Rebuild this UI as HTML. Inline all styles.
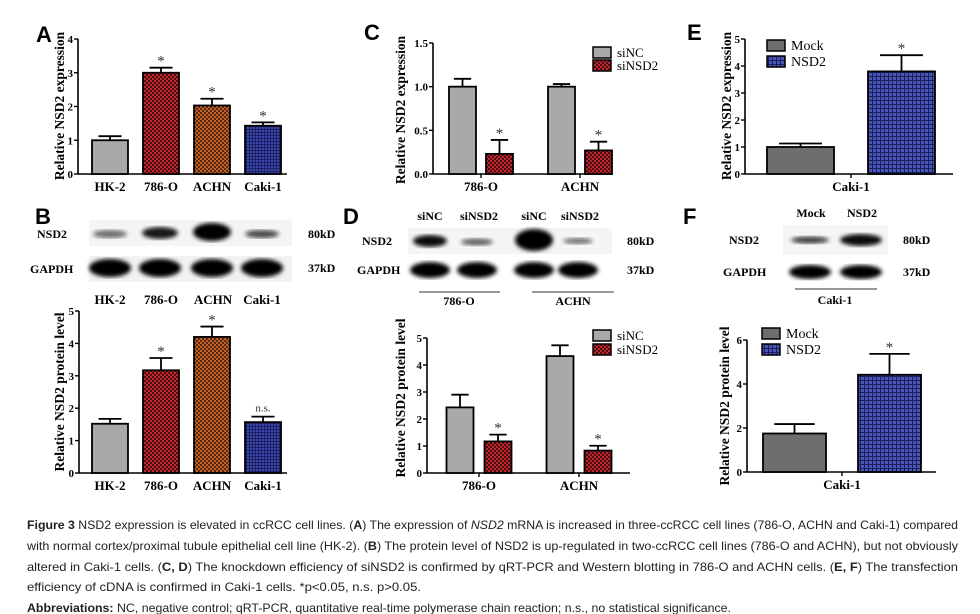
<!DOCTYPE html>
<html><head><meta charset="utf-8">
<style>
html,body{margin:0;padding:0;background:#fff;}
svg{display:block;}
.lt{font-family:"Liberation Sans",sans-serif;font-weight:bold;font-size:22px;}
.ser{font-family:"Liberation Serif",serif;font-weight:bold;}
.cap{font-family:"Liberation Sans",sans-serif;font-size:12px;fill:#222;}
.b{font-weight:bold;}
.i{font-style:italic;}
</style></head>
<body>
<svg id="fig" width="980" height="614" viewBox="0 0 980 614" xmlns="http://www.w3.org/2000/svg">
<defs>
<pattern id="pRed" width="4" height="4" patternUnits="userSpaceOnUse"><rect width="4" height="4" fill="#c0262e"/><rect width="2" height="2" fill="#4a0d10"/><rect x="2" y="2" width="2" height="2" fill="#4a0d10"/></pattern>
<pattern id="pOr" width="4" height="4" patternUnits="userSpaceOnUse"><rect width="4" height="4" fill="#c0622a"/><rect width="2" height="2" fill="#5a2a10"/><rect x="2" y="2" width="2" height="2" fill="#5a2a10"/></pattern>
<pattern id="pBlue" width="3" height="3" patternUnits="userSpaceOnUse"><rect width="3" height="3" fill="#3d47b0"/><rect width="3" height="1" fill="#1c2060"/><rect width="1" height="3" fill="#1c2060"/></pattern>
<pattern id="pBlue2" width="4" height="4" patternUnits="userSpaceOnUse"><rect width="4" height="4" fill="#4a55b8"/><rect width="4" height="1" fill="#1a1f5c"/><rect width="1" height="4" fill="#1a1f5c"/></pattern>
<filter id="blur"><feGaussianBlur stdDeviation="2.2"/></filter>
</defs>
<g id="charts"></g>
<g id="blots"></g>
<g id="caption"></g>
</svg>
<script>
// ---------- DATA ----------
const catsA = ["HK-2","786-O","ACHN","Caki-1"];
const valsA = [1.0, 3.0, 2.03, 1.43];
const errsA = [0.12, 0.15, 0.2, 0.1];
const sigA = ["", "*", "*", "*"];
const ticksA = [0,1,2,3,4];

const catsB = ["HK-2","786-O","ACHN","Caki-1"];
const valsB = [1.52, 3.17, 4.2, 1.57];
const errsB = [0.15, 0.38, 0.32, 0.17];
const sigB = ["", "*", "*", "n.s."];
const ticksB = [0,1,2,3,4,5];

const groupsC = ["786-O","ACHN"];
const seriesC = ["siNC","siNSD2"];
const valsC_siNC = [1.0, 1.0];
const errsC_siNC = [0.09, 0.03];
const valsC_siNSD2 = [0.23, 0.27];
const errsC_siNSD2 = [0.16, 0.1];
const ticksC = [0.0,0.5,1.0,1.5];
const tickLabelsC = ["0.0","0.5","1.0","1.5"];

const groupsD = ["786-O","ACHN"];
const seriesD = ["siNC","siNSD2"];
const valsD_siNC = [2.43, 4.33];
const errsD_siNC = [0.47, 0.4];
const valsD_siNSD2 = [1.17, 0.83];
const errsD_siNSD2 = [0.25, 0.18];
const ticksD = [0,1,2,3,4,5];

const groupsE = ["Caki-1"];
const seriesE = ["Mock","NSD2"];
const valsE_Mock = [1.0];
const errsE_Mock = [0.13];
const valsE_NSD2 = [3.8];
const errsE_NSD2 = [0.6];
const ticksE = [0,1,2,3,4,5];

const groupsF = ["Caki-1"];
const seriesF = ["Mock","NSD2"];
const valsF_Mock = [1.75];
const errsF_Mock = [0.43];
const valsF_NSD2 = [4.42];
const errsF_NSD2 = [0.95];
const ticksF = [0,2,4,6];

const NS = "http://www.w3.org/2000/svg";
function mk(tag, attrs, parent, text){
  const e = document.createElementNS(NS, tag);
  for (const k in attrs) e.setAttribute(k, attrs[k]);
  if (text !== undefined) e.textContent = text;
  if (parent) parent.appendChild(e);
  return e;
}
const charts = document.getElementById("charts");

function axes(g, c){
  const y = v => c.y0 - (v - 0) * (c.y0 - c.yTop) / c.yMax;
  const yax = mk("line",{x1:c.ax,y1:c.yTop,x2:c.ax,y2:c.y0,stroke:"#000","stroke-width":1.6},g);
  
  
  const xax = mk("line",{x1:c.ax,y1:c.y0,x2:c.axEnd,y2:c.y0,stroke:"#000","stroke-width":1.6},g);
  
  
  c.ticks.forEach((t,i)=>{
    mk("line",{x1:c.ax-4,y1:y(t),x2:c.ax,y2:y(t),stroke:"#000","stroke-width":1.4},g);
    const tl = mk("text",{x:c.ax-5,y:y(t)+4,"text-anchor":"end","font-size":11,class:"ser"},g,c.tickLabels?c.tickLabels[i]:String(t));
    
    
  });
  const tt = mk("text",{x:0,y:0,"text-anchor":"middle","font-size":c.titleSize||13.5,class:"ser",transform:`translate(${c.titleX},${c.titleY}) rotate(-90)`},g,c.title);
  
  
  return y;
}
function bar(g, x, w, v, e, fill, y, c, sig, name){
  const top = y(v);
  const r = mk("rect",{x:x,y:top,width:w,height:c.y0-top,fill:fill,stroke:"#000","stroke-width":1.8},g);
  
  
  const cx = x + w/2, et = y(v+e), cw = w*0.32;
  mk("line",{x1:cx,y1:top,x2:cx,y2:et,stroke:"#000","stroke-width":1.8},g);
  mk("line",{x1:cx-cw,y1:et,x2:cx+cw,y2:et,stroke:"#000","stroke-width":1.8},g);
  if (sig){
    const s = mk("text",{x:cx,y:sig==="*"?et-2:et-5,"text-anchor":"middle","font-size":sig==="*"?15:11,"font-family":"Liberation Serif, serif",fill:"#333"},g, sig);
    
    
  }
}
function simpleChart(c, cats, vals, errs, sig, fills){
  const g = mk("g",{},charts);
  
  
  const y = axes(g,c);
  cats.forEach((cat,i)=>{
    const cx = c.start + i*c.step;
    bar(g, cx - c.bw/2, c.bw, vals[i], errs[i], fills[i], y, c, sig[i], "bar-"+cat.toLowerCase());
    const l = mk("text",{x:cx,y:c.y0+17,"text-anchor":"middle","font-size":13,class:"ser"},g,cat);
    
    
  });
}
function groupChart(c, groups, series, vA, eA, vB, eB, sigB_, fills){
  const g = mk("g",{},charts);
  
  
  const y = axes(g,c);
  groups.forEach((grp,i)=>{
    const cx = c.start + i*c.step;
    bar(g, cx - c.gap/2 - c.bw, c.bw, vA[i], eA[i], fills[0], y, c, "", "bar-"+series[0].toLowerCase()+"-"+grp.toLowerCase());
    bar(g, cx + c.gap/2, c.bw, vB[i], eB[i], fills[1], y, c, sigB_, "bar-"+series[1].toLowerCase()+"-"+grp.toLowerCase());
    mk("line",{x1:cx,y1:c.y0,x2:cx,y2:c.y0+4,stroke:"#000","stroke-width":1.4},g);
    const l = mk("text",{x:cx,y:c.y0+17,"text-anchor":"middle","font-size":13,class:"ser"},g,grp);
    
    
  });
  series.forEach((s,i)=>{
    const ly = c.legY + i*c.legStep;
    const lr = mk("rect",{x:c.legX,y:ly,width:18,height:11,fill:fills[i],stroke:"#000","stroke-width":1.5},g);
    
    
    const lt = mk("text",{x:c.legX+24,y:ly+10,"font-size":c.legFont||13,"font-family":"Liberation Serif, serif"},g,s);
    
    
  });
}

simpleChart({name:"chart-a",ax:78,axEnd:287,y0:174,yTop:39,yMax:4,ticks:ticksA,title:"Relative NSD2 expression",titleX:64,titleY:106,start:110,step:51,bw:36},
  catsA, valsA, errsA, sigA, ["#a9a9a9","url(#pRed)","url(#pOr)","url(#pBlue)"]);
simpleChart({name:"chart-b",ax:79,axEnd:287,y0:473,yTop:311,yMax:5,ticks:ticksB,title:"Relative NSD2 protein level",titleX:64,titleY:392,start:110,step:51,bw:36},
  catsB, valsB, errsB, sigB, ["#a9a9a9","url(#pRed)","url(#pOr)","url(#pBlue)"]);
groupChart({name:"chart-c",ax:433,axEnd:613,y0:174,yTop:43,yMax:1.5,ticks:ticksC,tickLabels:tickLabelsC,title:"Relative NSD2 expression",titleX:405,titleY:110,start:481,step:99,bw:27,gap:10,legX:593,legY:47,legStep:13},
  groupsC, seriesC, valsC_siNC, errsC_siNC, valsC_siNSD2, errsC_siNSD2, "*", ["#a9a9a9","url(#pRed)"]);
groupChart({name:"chart-d",ax:427,axEnd:630,y0:473,yTop:338,yMax:5,ticks:ticksD,title:"Relative NSD2 protein level",titleX:405,titleY:398,start:479,step:100,bw:27,gap:11,legX:593,legY:330,legStep:14},
  groupsD, seriesD, valsD_siNC, errsD_siNC, valsD_siNSD2, errsD_siNSD2, "*", ["#a9a9a9","url(#pRed)"]);
groupChart({name:"chart-e",ax:745,axEnd:953,y0:174,yTop:39,yMax:5,ticks:ticksE,title:"Relative NSD2 expression",titleX:731,titleY:106,start:851,step:0,bw:67,gap:34,legX:767,legY:40,legStep:16,legFont:14},
  groupsE, seriesE, valsE_Mock, errsE_Mock, valsE_NSD2, errsE_NSD2, "*", ["#6e6e6e","url(#pBlue2)"]);
groupChart({name:"chart-f",ax:747,axEnd:936,y0:472,yTop:340,yMax:6,ticks:ticksF,title:"Relative NSD2 protein level",titleX:729,titleY:406,start:842,step:0,bw:63,gap:32,legX:762,legY:328,legStep:16,legFont:14},
  groupsF, seriesF, valsF_Mock, errsF_Mock, valsF_NSD2, errsF_NSD2, "*", ["#6e6e6e","url(#pBlue2)"]);

// panel letters
const letters = [["A",36,42],["B",35,224],["C",364,40],["D",343,224],["E",687,40],["F",683,224]];
letters.forEach(([t,x,y])=>{
  const e = mk("text",{x:x,y:y,class:"lt"},charts,t);
  
  
});

// ---------- blots ----------
const blots = document.getElementById("blots");
function txt(x,y,t,size,anchor,name){
  const e = mk("text",{x:x,y:y,"font-size":size,"text-anchor":anchor||"start",class:"ser"},blots,t);
  
  
}
function band(cx,cy,rx,ry,op){
  mk("ellipse",{cx:cx,cy:cy,rx:rx,ry:ry,fill:"#000","fill-opacity":op,filter:"url(#blur)"},blots);
}
// B blot
mk("rect",{x:89,y:220,width:203,height:26,fill:"#f4f4f4"},blots);
mk("rect",{x:89,y:256,width:203,height:26,fill:"#f2f2f2"},blots);
band(110,234,17,4,0.55); band(160,233,18,6,0.9); band(212,232,19,9,1); band(262,234,17,4,0.7);
[110,160,212,262].forEach(x=>band(x,268,21,9,1));
txt(37,238,"NSD2",12,"start","blot-b-nsd2-label");
txt(30,273,"GAPDH",12,"start","blot-b-gapdh-label");
txt(308,238,"80kD",12,"start","blot-b-80kd");
txt(308,272,"37kD",12,"start","blot-b-37kd");
[["HK-2",110],["786-O",161],["ACHN",213],["Caki-1",262]].forEach(([t,x])=>txt(x,304,t,13,"middle","blot-b-lane-label"));
// D blot
mk("rect",{x:408,y:228,width:204,height:26,fill:"#f5f5f5"},blots);
band(430,241,17,6,0.95); band(477,242,16,3.5,0.6); band(534,240,19,11,1); band(578,241,15,3,0.55);
[430,477,534,578].forEach(x=>band(x,270,20,8,1));
txt(430,220,"siNC",12,"middle","blot-d-sinc-label");
txt(479,220,"siNSD2",12,"middle","blot-d-sinsd2-label");
txt(534,220,"siNC",12,"middle","blot-d-sinc-label-2");
txt(580,220,"siNSD2",12,"middle","blot-d-sinsd2-label-2");
txt(362,245,"NSD2",12,"start","blot-d-nsd2-label");
txt(357,274,"GAPDH",12,"start","blot-d-gapdh-label");
txt(627,245,"80kD",12,"start","blot-d-80kd");
txt(627,274,"37kD",12,"start","blot-d-37kd");
mk("line",{x1:419,y1:292,x2:500,y2:292,stroke:"#333","stroke-width":1},blots);
mk("line",{x1:532,y1:292,x2:614,y2:292,stroke:"#333","stroke-width":1},blots);
txt(459,305,"786-O",12,"middle","blot-d-group-786o");
txt(573,305,"ACHN",12,"middle","blot-d-group-achn");
// F blot
mk("rect",{x:783,y:225,width:105,height:30,fill:"#f5f5f5"},blots);
band(810,240,19,3.5,0.75); band(861,240,21,6,0.95);
band(810,272,21,7,1); band(861,272,21,7,1);
txt(811,217,"Mock",12,"middle","blot-f-mock-label");
txt(862,217,"NSD2",12,"middle","blot-f-nsd2-label");
txt(729,244,"NSD2",12,"start","blot-f-nsd2-row");
txt(723,276,"GAPDH",12,"start","blot-f-gapdh-row");
txt(903,244,"80kD",12,"start","blot-f-80kd");
txt(903,276,"37kD",12,"start","blot-f-37kd");
mk("line",{x1:795,y1:289,x2:877,y2:289,stroke:"#333","stroke-width":1},blots);
txt(835,304,"Caki-1",12,"middle","blot-f-group-caki1");

// ---------- caption ----------
const cap = document.getElementById("caption");
const lines = [
 ['<tspan class="b">Figure 3</tspan> NSD2 expression is elevated in ccRCC cell lines. (<tspan class="b">A</tspan>) The expression of <tspan class="i">NSD2</tspan> mRNA is increased in three-ccRCC cell lines (786-O, ACHN and Caki-1) compared', 27, 529, 931],
 ['with normal cortex/proximal tubule epithelial cell line (HK-2). (<tspan class="b">B</tspan>) The protein level of NSD2 is up-regulated in two-ccRCC cell lines (786-O and ACHN), but not obviously', 27, 550, 931],
 ['altered in Caki-1 cells. (<tspan class="b">C, D</tspan>) The knockdown efficiency of siNSD2 is confirmed by qRT-PCR and Western blotting in 786-O and ACHN cells. (<tspan class="b">E, F</tspan>) The transfection', 27, 571, 931],
 ['efficiency of cDNA is confirmed in Caki-1 cells. *p&lt;0.05, n.s. p&gt;0.05.', 27, 591, 394],
 ['<tspan class="b">Abbreviations:</tspan> NC, negative control; qRT-PCR, quantitative real-time polymerase chain reaction; n.s., no statistical significance.', 27, 612, 704]
];
lines.forEach(([t,x,y,w],i)=>{
  const e = mk("text",{x:x,y:y,class:"cap",textLength:w,lengthAdjust:"spacingAndGlyphs"},cap);
  e.innerHTML = t;
  
  
});
</script>
</body></html>
